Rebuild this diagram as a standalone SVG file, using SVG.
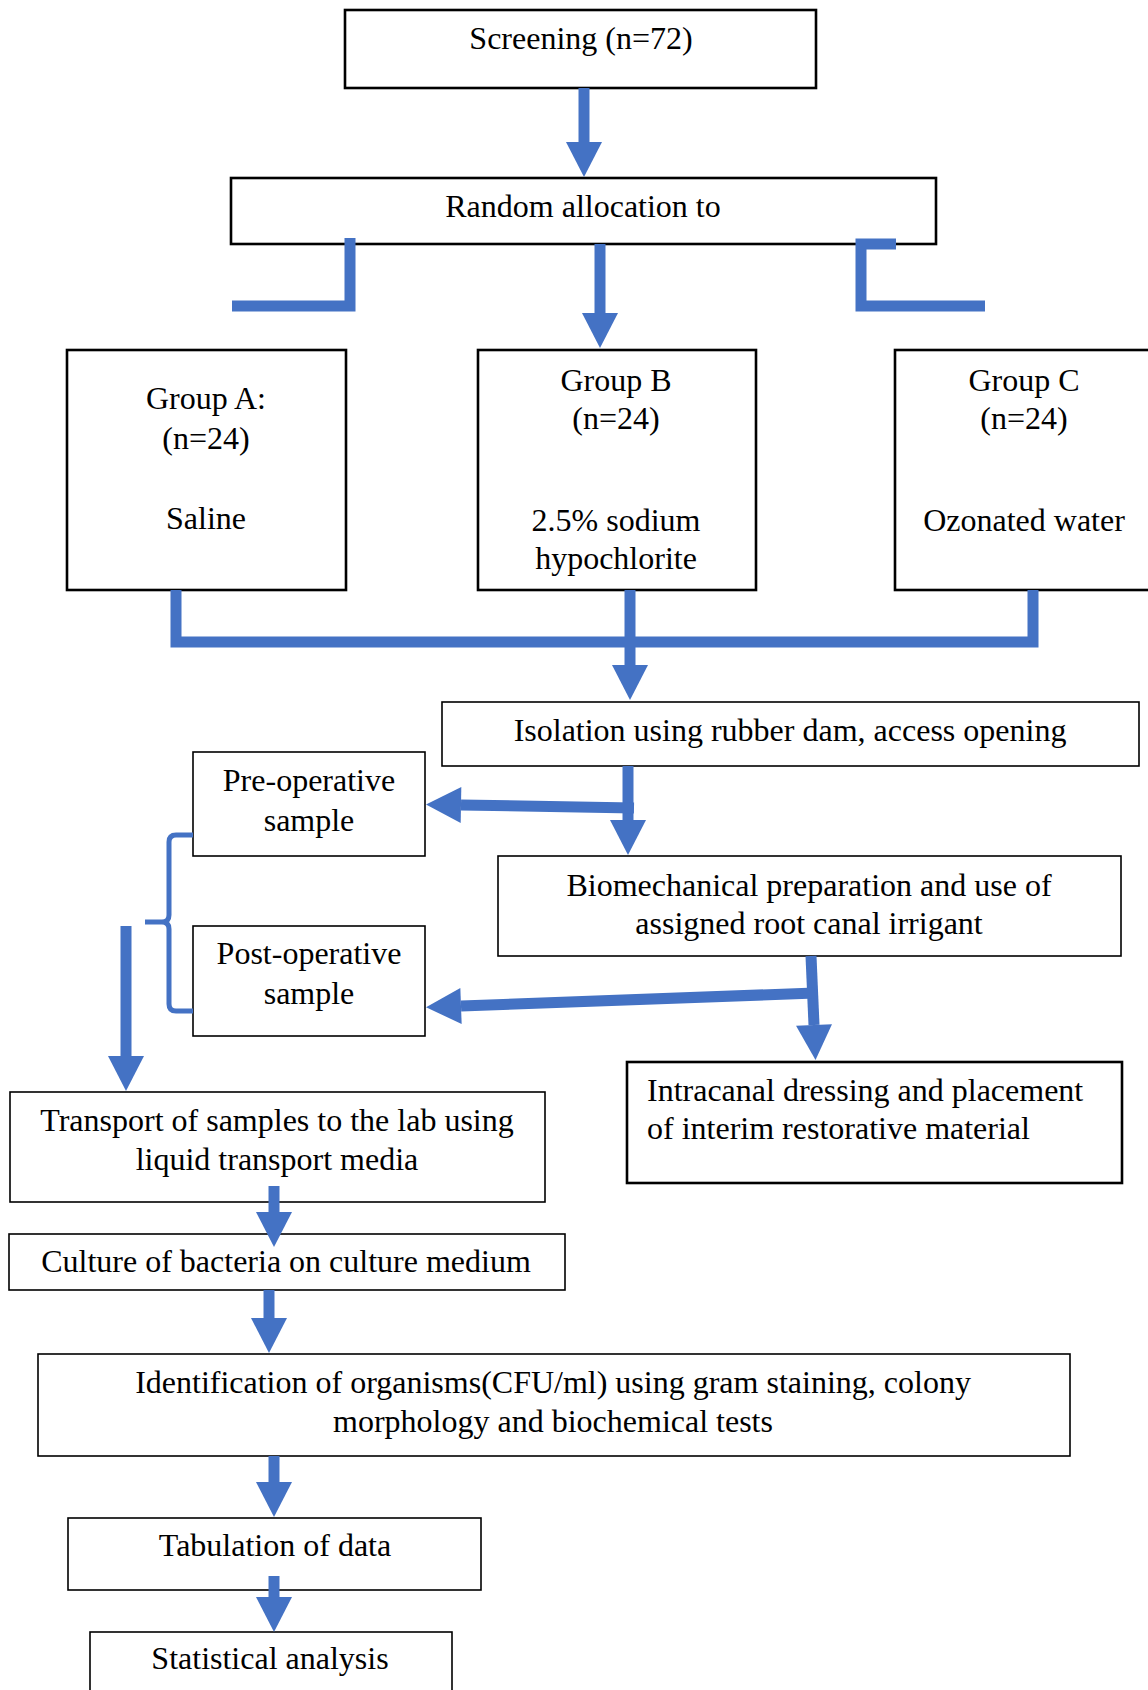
<svg xmlns="http://www.w3.org/2000/svg" width="1148" height="1690" viewBox="0 0 1148 1690">
<style>
  text { font-family: "Liberation Serif", "Times New Roman", serif; font-size: 32px; fill: #000; }
  .c { text-anchor: middle; }
  .box { fill: #fff; stroke: #000; stroke-width: 1.6; }
  .bx { fill: #fff; stroke: #000; stroke-width: 2.6; }
  .conn { fill: none; stroke: #4472C4; stroke-width: 11; stroke-linejoin: miter; stroke-linecap: butt; }
  .brace { fill: none; stroke: #4472C4; stroke-width: 5; }
</style>
<defs>
  <marker id="ah" markerUnits="userSpaceOnUse" markerWidth="36" markerHeight="36" viewBox="0 0 35 36" refX="0" refY="18" orient="auto">
    <path d="M0,0 L35,18 L0,36 z" fill="#4472C4"/>
  </marker>
</defs>
<rect width="1148" height="1690" fill="#fff"/>

<g id="screening"><rect class="bx" x="345" y="10" width="471" height="78"/><text class="c" x="581" y="49">Screening (n=72)</text></g>
<g id="random"><rect class="bx" x="231" y="178" width="705" height="66"/><text class="c" x="583" y="217">Random allocation to</text></g>
<g id="groupA"><rect class="bx" x="67" y="350" width="279" height="240"/><text class="c" x="206" y="409">Group A:</text><text class="c" x="206" y="449">(n=24)</text><text class="c" x="206" y="529">Saline</text></g>
<g id="groupB"><rect class="bx" x="478" y="350" width="278" height="240"/><text class="c" x="616" y="391">Group B</text><text class="c" x="616" y="429">(n=24)</text><text class="c" x="616" y="531">2.5% sodium</text><text class="c" x="616" y="569">hypochlorite</text></g>
<g id="groupC"><rect class="bx" x="895" y="350" width="262" height="240"/><text class="c" x="1024" y="391">Group C</text><text class="c" x="1024" y="429">(n=24)</text><text class="c" x="1024" y="531">Ozonated water</text></g>
<g id="isolation"><rect class="box" x="442" y="702" width="697" height="64"/><text class="c" x="790" y="741">Isolation using rubber dam, access opening</text></g>
<g id="preop"><rect class="box" x="193" y="752" width="232" height="104"/><text class="c" x="309" y="791">Pre-operative</text><text class="c" x="309" y="831">sample</text></g>
<g id="biomech"><rect class="box" x="498" y="856" width="623" height="100"/><text class="c" x="809" y="896">Biomechanical preparation and use of</text><text class="c" x="809" y="934">assigned root canal irrigant</text></g>
<g id="postop"><rect class="box" x="193" y="926" width="232" height="110"/><text class="c" x="309" y="964">Post-operative</text><text class="c" x="309" y="1004">sample</text></g>
<g id="intracanal"><rect class="bx" x="627" y="1062" width="495" height="121"/><text x="647" y="1101">Intracanal dressing and placement</text><text x="647" y="1139">of interim restorative material</text></g>
<g id="transport"><rect class="box" x="10" y="1092" width="535" height="110"/><text class="c" x="277" y="1131">Transport of samples to the lab using</text><text class="c" x="277" y="1170">liquid transport media</text></g>
<g id="culture"><rect class="box" x="9" y="1234" width="556" height="56"/><text class="c" x="286" y="1272">Culture of bacteria on culture medium</text></g>
<g id="identification"><rect class="box" x="38" y="1354" width="1032" height="102"/><text class="c" x="553" y="1393">Identification of organisms(CFU/ml) using gram staining, colony</text><text class="c" x="553" y="1432">morphology and biochemical tests</text></g>
<g id="tabulation"><rect class="box" x="68" y="1518" width="413" height="72"/><text class="c" x="275" y="1556">Tabulation of data</text></g>
<g id="statistical"><rect class="box" x="90" y="1632" width="362" height="70"/><text class="c" x="270" y="1669">Statistical analysis</text></g>

<g id="connectors">
  <path class="conn" d="M584,88 V142" marker-end="url(#ah)"/>
  <path class="conn" d="M232,306 H350 V238"/>
  <path class="conn" d="M600,244 V313" marker-end="url(#ah)"/>
  <path class="conn" d="M896,244 H861 V306 H985"/>
  <path class="conn" d="M176,590 V642 H1033 V590"/>
  <path class="conn" d="M630,590 V665" marker-end="url(#ah)"/>
  <path class="conn" d="M628,766 V820" marker-end="url(#ah)"/>
  <path class="conn" d="M634,808 L461,805" marker-end="url(#ah)"/>
  <path class="conn" d="M811,956 L814,1025" marker-end="url(#ah)"/>
  <path class="conn" d="M815,993 L461,1006" marker-end="url(#ah)"/>
  <path class="brace" d="M193,835 H176 Q169,835 169,842 V915 Q169,922 162,922 H145 M162,922 Q169,922 169,929 V1004 Q169,1011 176,1011 H193"/>
  <path class="conn" d="M126,926 V1056" marker-end="url(#ah)"/>
  <path class="conn" d="M274,1186 V1212" marker-end="url(#ah)"/>
  <path class="conn" d="M269,1290 V1318" marker-end="url(#ah)"/>
  <path class="conn" d="M274,1456 V1482" marker-end="url(#ah)"/>
  <path class="conn" d="M274,1576 V1597" marker-end="url(#ah)"/>
</g>
</svg>
